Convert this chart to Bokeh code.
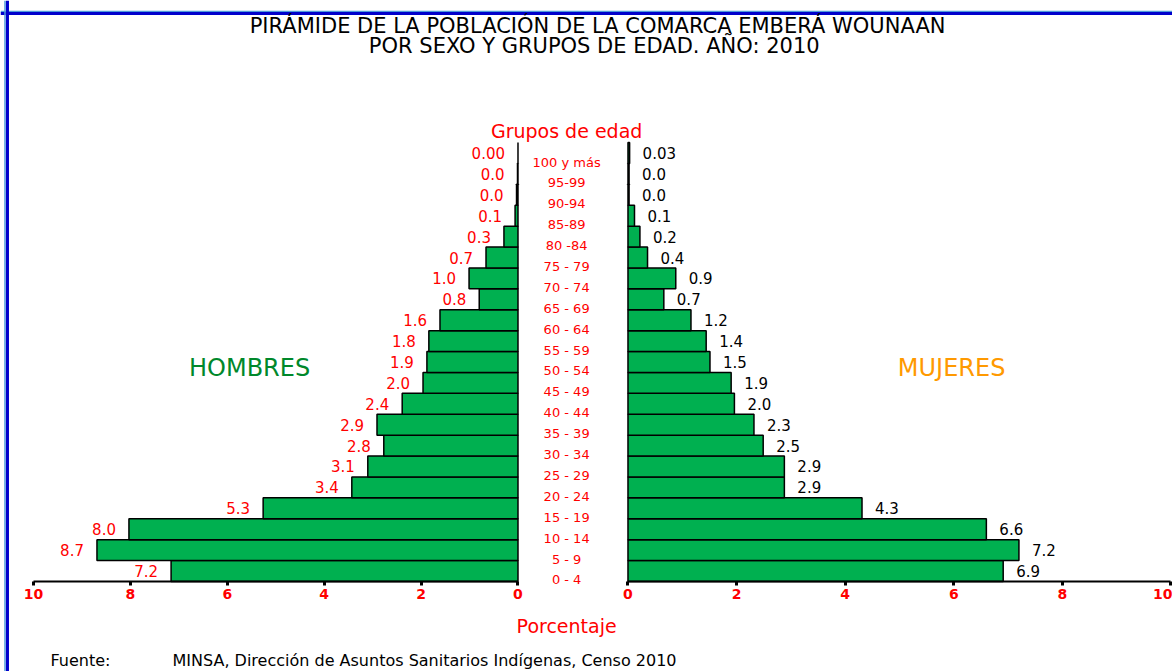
from bokeh.plotting import figure
from bokeh.models import (Range1d, LinearAxis, SingleIntervalTicker, Label,
                          Span, ColumnDataSource)
from bokeh.embed import file_html
from bokeh.resources import INLINE
from bokeh.core.properties import value

# ---------------- data ----------------
groups = ["0 - 4", "5 - 9", "10 - 14", "15 - 19", "20 - 24", "25 - 29",
          "30 - 34", "35 - 39", "40 - 44", "45 - 49", "50 - 54", "55 - 59",
          "60 - 64", "65 - 69", "70 - 74", "75 - 79", "80 -84", "85-89",
          "90-94", "95-99", "100 y más"]
hombres = [7.16, 8.69, 8.03, 5.26, 3.43, 3.10, 2.77, 2.91, 2.39, 1.96, 1.88,
           1.84, 1.61, 0.80, 1.01, 0.66, 0.29, 0.06, 0.03, 0.01, 0.00]
mujeres = [6.91, 7.20, 6.60, 4.31, 2.88, 2.88, 2.49, 2.32, 1.96, 1.90, 1.51,
           1.44, 1.16, 0.66, 0.88, 0.36, 0.22, 0.12, 0.02, 0.02, 0.03]
tick_interval = 2

title_lines = ["PIRÁMIDE DE LA POBLACIÓN DE LA COMARCA EMBERÁ WOUNAAN",
               "POR SEXO Y GRUPOS DE EDAD. AÑO:  2010"]


def fmt(g, v):
    return f"{v:.2f}" if g == "100 y más" else f"{v:.1f}"


src = ColumnDataSource(dict(
    y=list(range(len(groups))),
    grp=groups,
    male=hombres,
    female=mujeres,
    mlab=[fmt(g, v) for g, v in zip(groups, hombres)],
    flab=[fmt(g, v) for g, v in zip(groups, mujeres)],
))

FONT = "DejaVu Sans"
GREEN = "#00B050"
W, H = 1172, 671

p = figure(width=W, height=H,
           x_range=Range1d(10.681, -13.509),
           y_range=Range1d(-4.809, 27.297),
           x_axis_type=None, y_axis_type=None,
           toolbar_location=None, output_backend="svg",
           min_border=0, outline_line_color=None,
           background_fill_color="white", border_fill_color="white")
p.extra_x_ranges = {"right": Range1d(-11.556, 10.028)}

# blue frame lines (top and left), drawn first
p.add_layout(Span(location=26.77, dimension="width", line_color="#4F9BD9",
                  line_width=1.5))
p.add_layout(Span(location=26.675, dimension="width", line_color="#0000CC",
                  line_width=3))
p.add_layout(Span(location=10.588, dimension="height", line_color="#4F9BD9",
                  line_width=1.5))
p.add_layout(Span(location=10.537, dimension="height", line_color="#0000CC",
                  line_width=3))

# bars
p.hbar(y="y", left=0, right="male", height=1, source=src,
       fill_color=GREEN, line_color="black", line_width=1.5)
p.hbar(y="y", left=0, right="female", height=1, source=src,
       fill_color=GREEN, line_color="black", line_width=1.5,
       x_range_name="right")

# value labels
p.text(x="male", y="y", text="mlab", source=src, text_align="right",
       text_baseline="middle", x_offset=-13, text_color="red",
       text_font=value(FONT), text_font_size="15px")
p.text(x="female", y="y", text="flab", source=src, text_align="left",
       text_baseline="middle", x_offset=13, text_color="black",
       text_font=value(FONT), text_font_size="15px", x_range_name="right")

# category labels in the middle
CENTER_X = -1.13
p.text(x=CENTER_X, y="y", text="grp", source=src, text_align="center",
       text_baseline="middle", y_offset=9, text_color="red",
       text_font=value(FONT), text_font_size="13px", x_range_name="right")

# axes
for rng in ("default", "right"):
    ax = LinearAxis(x_range_name=rng, fixed_location=-0.5, bounds=(0, 10),
                    ticker=SingleIntervalTicker(interval=tick_interval,
                                                num_minor_ticks=0))
    ax.axis_line_color = "black"
    ax.axis_line_width = 2
    ax.major_tick_line_width = 3
    ax.major_tick_out = 4
    ax.major_tick_in = 0
    ax.minor_tick_line_color = None
    ax.major_label_text_color = "red"
    ax.major_label_text_font = FONT
    ax.major_label_text_font_style = "bold"
    ax.major_label_text_font_size = "14px"
    ax.major_label_standoff = 4
    p.add_layout(ax, "below")


# texts
def lab(text, x, y, size, color="black", rng="default", align="center"):
    p.add_layout(Label(x=x, y=y, text=text, x_range_name=rng,
                       text_align=align, text_baseline="middle",
                       text_color=color, text_font=FONT,
                       text_font_size=size))


lab(title_lines[0], -0.56, 26.09, "21px", rng="right")
lab(title_lines[1], -0.56, 25.12, "21px", rng="right")
lab("Grupos de edad", CENTER_X, 21.03, "19px", color="red", rng="right")
lab("HOMBRES", 5.54, 9.69, "24px", color="#00882B")
lab("MUJERES", 5.96, 9.69, "24px", color="#FF9900", rng="right")
lab("Porcentaje", CENTER_X, -2.655, "19px", color="red", rng="right")
lab("Fuente:", 9.65, -4.30, "16px", align="left")
lab("MINSA, Dirección de Asuntos Sanitarios Indígenas, Censo 2010", 7.13,
    -4.30, "16px", align="left")

open("out.html", "w").write(file_html(p, INLINE))
